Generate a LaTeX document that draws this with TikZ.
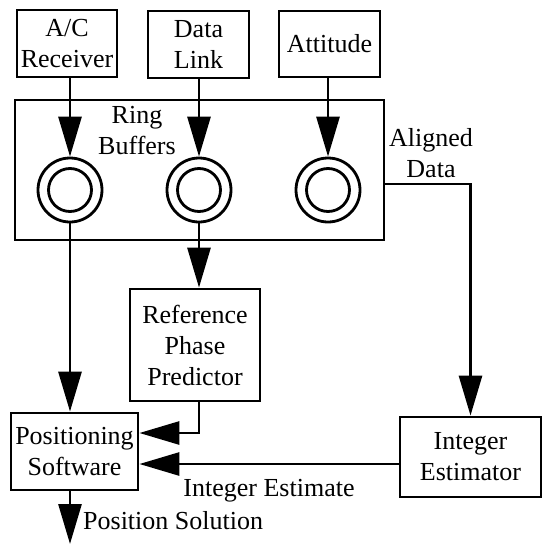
\documentclass[tikz,border=0pt]{standalone}
\usepackage{fontspec}
\setmainfont{Liberation Serif}
\usetikzlibrary{arrows.meta}
\tikzset{
  box/.style={draw, line width=2.8pt, align=center, inner sep=0pt},
  ring/.style={circle, draw, line width=2.8pt, minimum size=64pt, inner sep=0pt,
    path picture={\draw[line width=2.8pt] (path picture bounding box.center) circle (21.5pt);}},
  arr/.style={line width=2.8pt, -{Triangle[length=40pt, width=23pt]}}
}
\begin{document}
\begin{tikzpicture}[x=1pt, y=-1pt, font=\fontsize{26}{31}\selectfont]
	\useasboundingbox (0,0) rectangle (543,544);
	%sources
	\node[box, minimum width=100pt, minimum height=67pt] (rcv) at (67,43.5) {A/C\\Receiver};
	\node[box, minimum width=101pt, minimum height=67pt] (link) at (198.5,44.5) {Data\\Link};
	\node[box, minimum width=101pt, minimum height=66pt] (att) at (329.5,44) {Attitude};
	%ring buffers
	\node[box, minimum width=369pt, minimum height=140pt] (rbuf) at (199.5,170) {};
	\node[ring] (r1) at (70,190) {};
	\node[ring] (r2) at (199,190) {};
	\node[ring] (r3) at (328,190) {};
	\node[align=center, inner sep=0pt] (rblabel) at (137,131) {Ring\\Buffers};
	\node[align=center, inner sep=0pt] (adlabel) at (431,153) {Aligned\\Data};
	%processing
	\node[box, minimum width=130pt, minimum height=112pt] (rpp) at (195,345) {Reference\\Phase\\Predictor};
	\node[box, minimum width=127pt, minimum height=77pt] (pos) at (74.5,451.5) {Positioning\\Software};
	\node[box, minimum width=141pt, minimum height=80pt] (est) at (470.5,457) {Integer\\Estimator};
	\coordinate (sol) at (70,544);
	%connectors
	\draw[arr] (rcv.south -| r1) -- (r1.north);
	\draw[arr] (link.south -| r2) -- (r2.north);
	\draw[arr] (att.south -| r3) -- (r3.north);
	\draw[arr] (r2.south) -- (r2.south |- rpp.north);
	\draw[arr] (r1.south) -- (r1.south |- pos.north);
	\draw[arr] ([yshift=-14pt]rbuf.east) -| (est.north);
	\draw[arr] (r2 |- rpp.south) |- ([yshift=18.5pt]pos.east);
	\draw[arr] ([yshift=-7pt]est.west) -- node[below=14pt, inner sep=0pt] (ielabel) {Integer Estimate} ([yshift=-12.5pt]pos.east);
	\draw[arr] (r1 |- pos.south) -- (sol);
	\node[anchor=west, inner sep=0pt] (pslabel) at (83,521) {Position Solution};
\end{tikzpicture}
\end{document}
